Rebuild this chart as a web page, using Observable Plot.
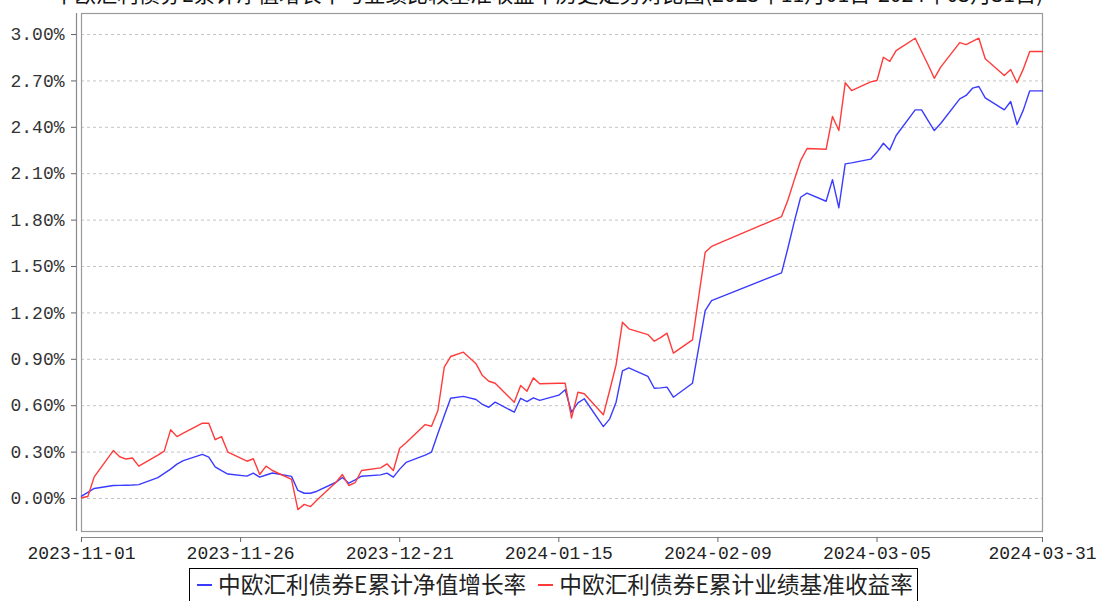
<!DOCTYPE html>
<html>
<head>
<meta charset="utf-8">
<script src="https://cdn.jsdelivr.net/npm/d3@7"></script>
<script src="https://cdn.jsdelivr.net/npm/@observablehq/plot@0.6"></script>
<style>
  html, body { margin: 0; padding: 0; background: #fff; overflow: hidden; }
  #wrap { position: relative; width: 1097px; height: 601px; overflow: hidden; }
  #title { position: absolute; left: 0; right: 0; top: -18px; text-align: center; line-height: 21px;
    font-family: "Noto Sans CJK SC", sans-serif; font-size: 21.3px; color: #111; white-space: nowrap; }
  #chart { position: absolute; left: 0; top: 0; }
  #legend { position: absolute; left: 189px; top: 568px; width: 727px; height: 40px;
    border: 1px solid #000; box-sizing: content-box; display: flex; align-items: flex-start;
    font-family: "Noto Sans CJK SC", sans-serif; font-size: 22.7px; color: #222; line-height: 30px; }
  .sw { display: inline-block; width: 15px; height: 2px; margin: 15px 6px 0 7px; }
</style>
</head>
<body>
<div id="wrap">
  <div id="chart"></div>
  <div id="title"></div>
  <div id="legend"></div>
</div>
<script>
const titleText = "中欧汇利债券E累计净值增长率与业绩比较基准收益率历史走势对比图(2023年11月01日-2024年03月31日)";
const seriesNames = ["中欧汇利债券E累计净值增长率", "中欧汇利债券E累计业绩基准收益率"];
const seriesColors = ["#3b3bff", "#ff3b3b"];

const dates = [
  "2023-11-01","2023-11-02","2023-11-03","2023-11-06","2023-11-07","2023-11-08","2023-11-09","2023-11-10",
  "2023-11-13","2023-11-14","2023-11-15","2023-11-16","2023-11-17","2023-11-20","2023-11-21","2023-11-22",
  "2023-11-23","2023-11-24","2023-11-27","2023-11-28","2023-11-29","2023-11-30","2023-12-01","2023-12-04",
  "2023-12-05","2023-12-06","2023-12-07","2023-12-08","2023-12-11","2023-12-12","2023-12-13","2023-12-14",
  "2023-12-15","2023-12-18","2023-12-19","2023-12-20","2023-12-21","2023-12-22","2023-12-25","2023-12-26",
  "2023-12-27","2023-12-28","2023-12-29","2023-12-31","2024-01-02","2024-01-03","2024-01-04","2024-01-05",
  "2024-01-08","2024-01-09","2024-01-10","2024-01-11","2024-01-12","2024-01-15","2024-01-16","2024-01-17",
  "2024-01-18","2024-01-19","2024-01-22","2024-01-23","2024-01-24","2024-01-25","2024-01-26","2024-01-29",
  "2024-01-30","2024-01-31","2024-02-01","2024-02-02","2024-02-05","2024-02-06","2024-02-07","2024-02-08",
  "2024-02-19","2024-02-20","2024-02-21","2024-02-22","2024-02-23","2024-02-26","2024-02-27","2024-02-28",
  "2024-02-29","2024-03-01","2024-03-04","2024-03-05","2024-03-06","2024-03-07","2024-03-08","2024-03-11",
  "2024-03-12","2024-03-13","2024-03-14","2024-03-15","2024-03-18","2024-03-19","2024-03-20","2024-03-21",
  "2024-03-22","2024-03-25","2024-03-26","2024-03-27","2024-03-28","2024-03-29","2024-03-31"
];

// 累计净值增长率 (%)
const navGrowth = [
  0.015,0.040,0.065,0.084,0.085,0.086,0.087,0.090,
  0.135,0.162,0.190,0.222,0.245,0.285,0.268,0.205,
  0.180,0.158,0.145,0.164,0.138,0.152,0.165,0.143,
  0.052,0.034,0.034,0.047,0.105,0.136,0.099,0.120,
  0.144,0.153,0.164,0.138,0.190,0.233,0.280,0.300,
  0.420,0.535,0.648,0.660,0.640,0.608,0.590,0.623,
  0.558,0.648,0.627,0.651,0.634,0.668,0.703,0.558,
  0.618,0.645,0.465,0.515,0.623,0.825,0.845,0.790,
  0.713,0.715,0.720,0.655,0.745,0.980,1.215,1.280,
  1.459,1.620,1.790,1.948,1.974,1.922,2.062,1.880,
  2.164,2.170,2.194,2.240,2.297,2.254,2.347,2.513,
  2.513,2.445,2.379,2.425,2.584,2.606,2.653,2.664,
  2.591,2.513,2.567,2.418,2.513,2.636,2.636
];

// 累计业绩基准收益率 (%)
const benchReturn = [
  0.005,0.013,0.140,0.310,0.270,0.255,0.262,0.209,
  0.280,0.306,0.444,0.400,0.422,0.487,0.487,0.380,
  0.400,0.300,0.241,0.257,0.155,0.209,0.181,0.124,
  -0.072,-0.038,-0.052,-0.010,0.105,0.155,0.084,0.102,
  0.181,0.198,0.224,0.181,0.325,0.360,0.478,0.467,
  0.569,0.849,0.918,0.946,0.871,0.795,0.758,0.745,
  0.623,0.731,0.694,0.780,0.742,0.745,0.745,0.520,
  0.687,0.677,0.541,0.700,0.865,1.140,1.097,1.060,
  1.017,1.040,1.069,0.940,1.026,1.310,1.592,1.630,
  1.823,1.930,2.060,2.185,2.263,2.258,2.470,2.379,
  2.688,2.638,2.694,2.703,2.853,2.827,2.896,2.976,
  2.890,2.806,2.717,2.789,2.948,2.935,2.955,2.976,
  2.843,2.735,2.774,2.688,2.778,2.890,2.890
];

const xTickLabels = ["2023-11-01","2023-11-26","2023-12-21","2024-01-15","2024-02-09","2024-03-05","2024-03-31"];
const yTickValues = [0, 0.3, 0.6, 0.9, 1.2, 1.5, 1.8, 2.1, 2.4, 2.7, 3.0];

const parse = d3.utcParse("%Y-%m-%d");
const rows = dates.map((d, i) => ({date: parse(d), nav: navGrowth[i], bench: benchReturn[i]}));
const xTicks = xTickLabels.map(parse);
const xDomain = [parse("2023-11-01"), parse("2024-03-31")];
const yDomain = [-0.2134, 3.136];

const chart = Plot.plot({
  width: 1097,
  height: 563,
  marginLeft: 81,
  marginRight: 55,
  marginTop: 13,
  marginBottom: 32,
  style: {fontFamily: "'Liberation Mono', 'DejaVu Sans Mono', monospace", fontSize: "18px", color: "#333", background: "transparent"},
  x: {type: "utc", domain: xDomain},
  y: {domain: yDomain},
  marks: [
    Plot.ruleY(yTickValues, {stroke: "#c4c4c4", strokeDasharray: "3,3", strokeWidth: 1}),
    Plot.frame({stroke: "#9a9a9a", strokeWidth: 1.2}),
    Plot.ruleY([yDomain[0]], {dy: 6, stroke: "#8a8a8a", strokeWidth: 1.2}),
    Plot.ruleX([xDomain[0]], {dx: -5, stroke: "#8a8a8a", strokeWidth: 1.2}),
    Plot.axisX({ticks: xTicks, tickFormat: d3.utcFormat("%Y-%m-%d"), tickSize: 5, dy: 6, tickPadding: 4, stroke: "#666", fill: "#222"}),
    Plot.axisY({ticks: yTickValues, tickFormat: d => d.toFixed(2) + "%", tickSize: 5, dx: -5, tickPadding: 7, stroke: "#666", fill: "#333"}),
    Plot.line(rows, {x: "date", y: "nav", stroke: seriesColors[0], strokeWidth: 1.4}),
    Plot.line(rows, {x: "date", y: "bench", stroke: seriesColors[1], strokeWidth: 1.4})
  ]
});
document.getElementById("chart").appendChild(chart);
document.getElementById("title").textContent = titleText;

const legend = document.getElementById("legend");
seriesNames.forEach((name, i) => {
  const sw = document.createElement("span");
  sw.className = "sw";
  sw.style.background = seriesColors[i];
  if (i > 0) sw.style.marginLeft = "12px";
  const t = document.createElement("span");
  t.textContent = name;
  legend.appendChild(sw);
  legend.appendChild(t);
});
</script>
</body>
</html>
